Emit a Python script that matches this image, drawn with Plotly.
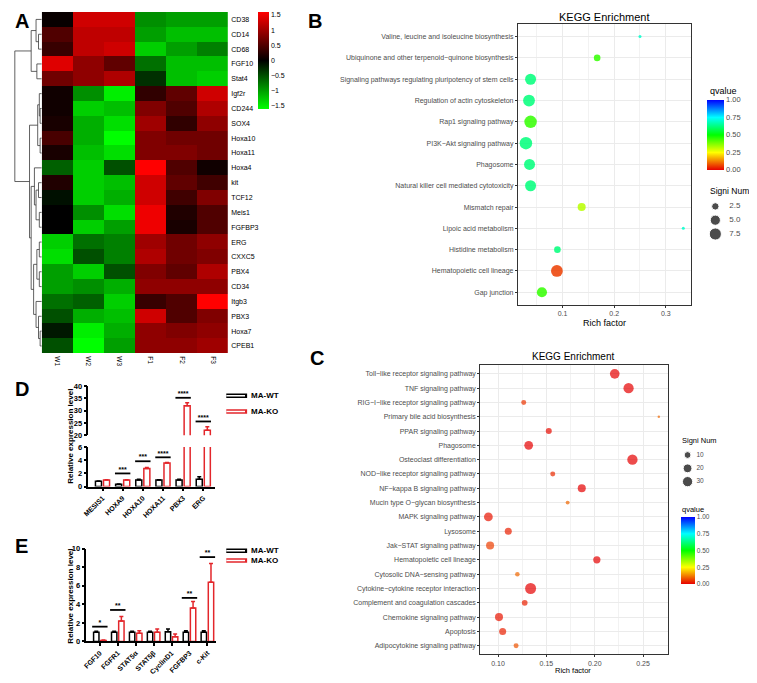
import plotly.graph_objects as go

W, H = 757, 683
OFF = 8  # page body margin: shift figure coordinates so the drawing lands on the reference pixels
FW, FH = W - OFF, H - OFF
FONT = "Liberation Sans, Arial, sans-serif"
RED = "#e3262b"
GREY_TXT = "#4d4d4d"


def px_x(x):
    return max(x - OFF, 0) / FW


def px_y(y):
    return 1 - max(y - OFF, 0) / FH


def dom_x(left, right):
    return [px_x(left), px_x(right)]


def dom_y(top, bottom):
    return [px_y(bottom), px_y(top)]


# ---------------- A: heatmap (row z-scores) ----------------
genes = ["CD38", "CD14", "CD68", "FGF10", "Stat4", "Igf2r", "CD244", "SOX4",
         "Hoxa10", "Hoxa11", "Hoxa4", "kit", "TCF12", "Meis1", "FGFBP3", "ERG",
         "CXXC5", "PBX4", "CD34", "Itgb3", "PBX3", "Hoxa7", "CPEB1"]
samples = ["W1", "W2", "W3", "F1", "F2", "F3"]
zscores = [
    [0.05, 1.3, 1.3, -0.9, -1.0, -1.0],
    [0.5, 1.2, 1.2, -1.0, -1.2, -1.2],
    [0.35, 1.2, 1.3, -1.3, -1.0, -0.8],
    [1.4, 0.9, 0.6, -0.7, -1.2, -1.2],
    [0.7, 0.9, 1.1, -0.3, -1.2, -1.3],
    [0.1, -0.9, -1.5, 0.3, 0.6, 1.3],
    [0.1, -1.3, -1.2, 0.8, 0.5, 1.1],
    [0.15, -1.1, -1.4, 1.0, 0.3, 0.9],
    [0.45, -1.1, -1.6, 0.8, 0.7, 0.7],
    [0.15, -1.2, -1.4, 0.8, 0.8, 0.7],
    [-0.6, -1.3, -0.5, 1.6, 0.5, 0.1],
    [0.2, -1.3, -1.2, 1.3, 0.6, 0.4],
    [-0.1, -1.3, -1.1, 1.3, 0.4, 0.8],
    [0.0, -0.9, -1.4, 1.5, 0.2, 0.5],
    [0.0, -1.3, -1.0, 1.5, 0.15, 0.5],
    [-1.3, -0.7, -0.8, 1.0, 0.7, 0.9],
    [-1.4, -0.5, -0.8, 1.1, 0.7, 0.8],
    [-1.0, -1.3, -0.5, 0.8, 0.6, 1.1],
    [-1.0, -0.9, -1.1, 0.9, 0.9, 0.9],
    [-0.7, -0.6, -1.3, 0.35, 0.5, 1.6],
    [-0.5, -1.1, -1.2, 1.3, 0.5, 0.8],
    [-0.15, -1.5, -1.1, 0.9, 0.8, 0.9],
    [-0.5, -1.6, -1.0, 0.9, 0.9, 1.0],
]
heat_ticks = [-1.5, -1, -0.5, 0, 0.5, 1, 1.5]

# row dendrogram: (left, right, merge height)
row_tree = (
    (("CD38", ("CD14", "CD68", 4), 7), ("FGF10", "Stat4", 6), 13),
    (
        (("Igf2r", ("CD244", "SOX4", 2), 3), ("Hoxa10", "Hoxa11", 2), 5),
        (
            ("Hoxa4", (("kit", "TCF12", 4), ("Meis1", "FGFBP3", 3), 7), 9),
            ((("ERG", "CXXC5", 3), ("PBX4", "CD34", 3), 6),
             ("Itgb3", ("PBX3", ("Hoxa7", "CPEB1", 2), 4), 7), 10),
            13,
        ),
        15,
    ),
    33,
)

# ---------------- B: KEGG enrichment ----------------
b_terms = [
    "Valine, leucine and isoleucine biosynthesis",
    "Ubiquinone and other terpenoid\u2212quinone biosynthesis",
    "Signaling pathways regulating pluripotency of stem cells",
    "Regulation of actin cytoskeleton",
    "Rap1 signaling pathway",
    "PI3K\u2212Akt signaling pathway",
    "Phagosome",
    "Natural killer cell mediated cytotoxicity",
    "Mismatch repair",
    "Lipoic acid metabolism",
    "Histidine metabolism",
    "Hematopoietic cell lineage",
    "Gap junction",
]
b_rich = [0.25, 0.167, 0.038, 0.035, 0.038, 0.029, 0.036, 0.038, 0.137, 0.334, 0.09, 0.089, 0.06]
b_count = [1, 2, 6, 7, 8, 8, 6, 6, 3, 1, 2, 7, 5]
b_q = [0.7, 0.45, 0.62, 0.62, 0.45, 0.62, 0.62, 0.62, 0.32, 0.7, 0.62, 0.06, 0.45]
b_size_legend = [2.5, 5.0, 7.5]

# ---------------- C: KEGG enrichment ----------------
c_terms = [
    "Toll\u2212like receptor signaling pathway",
    "TNF signaling pathway",
    "RIG\u2212I\u2212like receptor signaling pathway",
    "Primary bile acid biosynthesis",
    "PPAR signaling pathway",
    "Phagosome",
    "Osteoclast differentiation",
    "NOD\u2212like receptor signaling pathway",
    "NF\u2212kappa B signaling pathway",
    "Mucin type O\u2212glycan biosynthesis",
    "MAPK signaling pathway",
    "Lysosome",
    "Jak\u2212STAT signaling pathway",
    "Hematopoietic cell lineage",
    "Cytosolic DNA\u2212sensing pathway",
    "Cytokine\u2212cytokine receptor interaction",
    "Complement and coagulation cascades",
    "Chemokine signaling pathway",
    "Apoptosis",
    "Adipocytokine signaling pathway",
]
c_rich = [0.2207, 0.235, 0.1266, 0.2663, 0.1525, 0.1317, 0.239, 0.1566, 0.1866, 0.172,
          0.090, 0.1106, 0.0918, 0.2022, 0.120, 0.1337, 0.1276, 0.101, 0.1048, 0.1187]
c_count = [26, 30, 4, 1, 7, 20, 31, 4, 16, 2, 20, 11, 16, 12, 3, 36, 6, 16, 11, 4]
c_q = [0.0, 0.0, 0.05, 0.1, 0.01, 0.0, 0.0, 0.04, 0.0, 0.1,
       0.02, 0.03, 0.06, 0.0, 0.1, 0.0, 0.03, 0.02, 0.03, 0.08]
c_size_legend = [10, 20, 30]
q_ticks = [0, 0.25, 0.5, 0.75, 1.0]

# ---------------- D: qPCR ----------------
d_genes = ["MESIS1", "HOXA9", "HOXA10", "HOXA11", "PBX3", "ERG"]
d_wt = [0.8, 0.35, 1.0, 1.0, 1.0, 1.1]
d_wt_err = [0.05, 0.05, 0.1, 0.05, 0.1, 0.4]
d_ko = [1.0, 1.0, 2.75, 3.6, 32, 22]
d_ko_err = [0.05, 0.05, 0.15, 0.05, 1.2, 1.5]
d_sig_genes = ["HOXA9", "HOXA10", "HOXA11", "PBX3", "ERG"]
d_sig_y = [2.0, 3.85, 4.45, 35.2, 25.6]
d_sig_text = ["***", "***", "****", "****", "****"]

# ---------------- E: qPCR ----------------
e_genes = ["FGF10", "FGFR1", "STAT5\u03b1", "STAT5\u03b2", "CyclinD1", "FGFBP3", "c-Kit"]
e_wt = [1.0, 1.0, 1.0, 1.0, 1.05, 1.0, 1.0]
e_wt_err = [0.1, 0.1, 0.1, 0.1, 0.3, 0.15, 0.15]
e_ko = [0.1, 2.2, 0.9, 1.0, 0.5, 3.6, 6.4]
e_ko_err = [0.05, 0.5, 0.25, 0.35, 0.3, 0.7, 2.0]
e_sig_genes = ["FGF10", "FGFR1", "FGFBP3", "c-Kit"]
e_sig_y = [1.6, 3.4, 4.7, 9.1]
e_sig_text = ["*", "**", "**", "**"]

groups = ["MA-WT", "MA-KO"]
group_colors = ["black", RED]

rainbow = [[0, "#e60000"], [0.25, "#ffff00"], [0.5, "#00ff00"], [0.75, "#00ffff"], [1, "#0000ff"]]


def dendrogram_xy(tree, pos):
    xs, ys = [], []

    def walk(node):
        if isinstance(node, str):
            return pos[node], 0.0
        left, right, h = node
        yl, hl = walk(left)
        yr, hr = walk(right)
        xs.extend([hl, h, h, hr, None])
        ys.extend([yl, yl, yr, yr, None])
        return (yl + yr) / 2, h

    walk(tree)
    return xs, ys


def dot_sizes(counts, nmin, nmax, dmin, dmax):
    return [dmin + (dmax - dmin) * ((c - nmin) / (nmax - nmin)) ** 0.5 for c in counts]


fig = go.Figure()

# A
fig.add_trace(go.Heatmap(z=zscores, x=samples, y=genes, coloraxis="coloraxis",
                         xaxis="x", yaxis="y", hoverinfo="skip"))
dx, dy = dendrogram_xy(row_tree, {g: i for i, g in enumerate(genes)})
fig.add_trace(go.Scatter(x=dx, y=dy, mode="lines", line=dict(color="#3a3a3a", width=0.8),
                         xaxis="x2", yaxis="y2", showlegend=False, hoverinfo="skip"))

# B
b_nmin, b_nmax = min(b_count), max(b_count)
fig.add_trace(go.Scatter(
    x=b_rich, y=b_terms, mode="markers", xaxis="x3", yaxis="y3", showlegend=False,
    marker=dict(size=dot_sizes(b_count, b_nmin, b_nmax, 3, 12.5), color=b_q,
                coloraxis="coloraxis2", line=dict(width=0), opacity=0.85)))
fig.add_trace(go.Scatter(
    x=[10] * 3, y=b_size_legend, mode="markers", xaxis="x4", yaxis="y4", showlegend=False,
    marker=dict(size=dot_sizes(b_size_legend, b_nmin, b_nmax, 3, 12.5), color="black")))
fig.add_trace(go.Scatter(
    x=[24] * 3, y=b_size_legend, mode="text", text=[f"{v:.1f}" for v in b_size_legend],
    textposition="middle right", textfont=dict(size=8, color=GREY_TXT),
    xaxis="x4", yaxis="y4", showlegend=False, cliponaxis=False))

# C
c_nmin, c_nmax = min(c_count), max(c_count)
fig.add_trace(go.Scatter(
    x=c_rich, y=c_terms, mode="markers", xaxis="x5", yaxis="y5", showlegend=False,
    marker=dict(size=dot_sizes(c_count, c_nmin, c_nmax, 2.5, 11), color=c_q,
                coloraxis="coloraxis3", line=dict(width=0))))
fig.add_trace(go.Scatter(
    x=[9] * 3, y=c_size_legend, mode="markers", xaxis="x6", yaxis="y6", showlegend=False,
    marker=dict(size=dot_sizes(c_size_legend, c_nmin, c_nmax, 2.5, 11), color="black")))
fig.add_trace(go.Scatter(
    x=[18] * 3, y=c_size_legend, mode="text", text=[str(v) for v in c_size_legend],
    textposition="middle right", textfont=dict(size=6.5, color=GREY_TXT),
    xaxis="x6", yaxis="y6", showlegend=False, cliponaxis=False))


def add_bars(cats, wt, wt_err, ko, ko_err, xa, ya):
    for vals, errs, color, off in ((wt, wt_err, "black", -0.35), (ko, ko_err, RED, 0.05)):
        fig.add_trace(go.Bar(
            x=cats, y=vals, width=0.3, offset=off, xaxis=xa, yaxis=ya, showlegend=False,
            marker=dict(color="white", line=dict(color=color, width=1.5)),
            error_y=dict(type="data", array=errs, arrayminus=[0] * len(errs), symmetric=False,
                         color=color, thickness=1.5, width=2)))


def add_sig(cats, ys, labels, xa, ya):
    if not cats:
        return
    fig.add_trace(go.Scatter(
        x=cats, y=ys, mode="markers", xaxis=xa, yaxis=ya, showlegend=False, cliponaxis=False,
        marker=dict(symbol="line-ew", size=11, line=dict(color="black", width=1.8))))
    fig.add_trace(go.Scatter(
        x=cats, y=ys, mode="text", text=labels, textposition="top center", xaxis=xa, yaxis=ya,
        textfont=dict(size=7, color="black", weight="bold"), showlegend=False, cliponaxis=False))


def add_group_legend(xa, ya):
    ys = list(range(len(groups)))
    fig.add_trace(go.Scatter(
        x=[9] * len(groups), y=ys, mode="markers", xaxis=xa, yaxis=ya, showlegend=False,
        marker=dict(symbol="line-ew", size=17, color=group_colors,
                    line=dict(color=group_colors, width=4.5))))
    fig.add_trace(go.Scatter(
        x=[9] * len(groups), y=ys, mode="markers", xaxis=xa, yaxis=ya, showlegend=False,
        marker=dict(symbol="line-ew", size=14, line=dict(color="white", width=1.5))))
    fig.add_trace(go.Scatter(
        x=[25] * len(groups), y=ys, mode="text", text=groups, textposition="middle right",
        textfont=dict(size=8, color="black", weight="bold"), xaxis=xa, yaxis=ya,
        showlegend=False, cliponaxis=False))


# D (broken axis: top 20-40, bottom 0-6)
add_bars(d_genes, d_wt, d_wt_err, d_ko, d_ko_err, "x7", "y7")
add_bars(d_genes, d_wt, d_wt_err, d_ko, d_ko_err, "x8", "y8")
hi = [i for i, v in enumerate(d_sig_y) if v >= 20]
lo = [i for i, v in enumerate(d_sig_y) if v < 20]
add_sig([d_sig_genes[i] for i in hi], [d_sig_y[i] for i in hi], [d_sig_text[i] for i in hi], "x7", "y7")
add_sig([d_sig_genes[i] for i in lo], [d_sig_y[i] for i in lo], [d_sig_text[i] for i in lo], "x8", "y8")
add_group_legend("x10", "y10")

# E
add_bars(e_genes, e_wt, e_wt_err, e_ko, e_ko_err, "x9", "y9")
add_sig(e_sig_genes, e_sig_y, e_sig_text, "x9", "y9")
add_group_legend("x11", "y11")

hidden = dict(visible=False, showgrid=False, zeroline=False, fixedrange=True)
gg_axis = dict(showline=True, linecolor="#333333", linewidth=1, mirror=True, ticks="outside",
               ticklen=2, tickcolor="#333333", showgrid=True, gridcolor="#ebebeb", gridwidth=1,
               zeroline=False, tickfont=dict(size=7, color=GREY_TXT))
bar_y = dict(showline=True, linecolor="black", linewidth=1.5, ticks="outside", ticklen=3,
             tickwidth=1.5, tickcolor="black", showgrid=False, zeroline=False,
             tickfont=dict(size=7.5, color="black", weight="bold"))
bar_x = dict(type="category", showline=True, linecolor="black", linewidth=1.5, ticks="outside",
             ticklen=3, tickwidth=1.5, tickcolor="black", showgrid=False, zeroline=False,
             tickangle=-45, tickfont=dict(size=7, color="black", weight="bold"))


def cbar(left, top, length, thick, fsize, vals, texts, color="black"):
    return dict(x=px_x(left), xanchor="left", xpad=0, y=px_y(top), yanchor="top", ypad=0,
                len=length, lenmode="pixels", thickness=thick, outlinewidth=0, ticks="",
                tickvals=vals, ticktext=texts, tickfont=dict(size=fsize, color=color))


fig.update_layout(
    width=FW, height=FH, margin=dict(l=0, r=0, t=0, b=0), autosize=False,
    paper_bgcolor="white", plot_bgcolor="white", barmode="overlay",
    font=dict(family=FONT, color="black"), showlegend=False,
    # A
    xaxis=dict(domain=dom_x(36, 224), anchor="y", tickangle=90, ticks="", showgrid=False,
               zeroline=False, tickfont=dict(size=6.5), ticklabelstandoff=2),
    yaxis=dict(domain=dom_y(2, 354), anchor="x", side="right", range=[22.5, -0.5], ticks="",
               showgrid=False, zeroline=False, tickfont=dict(size=7), ticklabelstandoff=2,
               categoryorder="array", categoryarray=genes),
    xaxis2=dict(domain=dom_x(2, 36), anchor="y2", range=[34, 0], **hidden),
    yaxis2=dict(domain=dom_y(2, 354), anchor="x2", range=[22.5, -0.5], **hidden),
    coloraxis=dict(cmin=-1.6, cmax=1.6,
                   colorscale=[[0, "#00ff00"], [0.5, "#000000"], [1, "#ff0000"]],
                   colorbar=cbar(254, 2, 97, 11, 7, heat_ticks,
                                 [f"{v:g}".replace("-", "\u2212") for v in heat_ticks])),
    # B
    xaxis3=dict(domain=dom_x(516, 690), anchor="y3", range=[0.0135, 0.348],
                tickvals=[0.1, 0.2, 0.3], ticktext=["0.1", "0.2", "0.3"],
                minor=dict(tickvals=[0.05, 0.15, 0.25], showgrid=True, gridcolor="#f2f2f2",
                           ticks=""), **gg_axis),
    yaxis3=dict(domain=dom_y(20, 305), anchor="x3", type="category", categoryorder="array",
                categoryarray=b_terms, range=[12.6, -0.6], **gg_axis),
    xaxis4=dict(domain=dom_x(705, 757), anchor="y4", range=[0, 52], **hidden),
    yaxis4=dict(domain=dom_y(196, 240), anchor="x4", range=[8.75, 0.89], **hidden),
    coloraxis2=dict(cmin=0, cmax=1, colorscale=rainbow,
                    colorbar=cbar(707, 97, 70, 17, 7.5, q_ticks,
                                  [f"{v:.2f}" for v in q_ticks], GREY_TXT)),
    # C
    xaxis5=dict(domain=dom_x(478, 667), anchor="y5", range=[0.0816, 0.2755],
                tickvals=[0.10, 0.15, 0.20, 0.25], ticktext=["0.10", "0.15", "0.20", "0.25"],
                minor=dict(tickvals=[0.125, 0.175, 0.225], showgrid=True, gridcolor="#f2f2f2",
                           ticks=""), **gg_axis),
    yaxis5=dict(domain=dom_y(366, 659), anchor="x5", type="category", categoryorder="array",
                categoryarray=c_terms, range=[19.6, -0.6], **gg_axis),
    xaxis6=dict(domain=dom_x(678, 730), anchor="y6", range=[0, 52], **hidden),
    yaxis6=dict(domain=dom_y(447, 494), anchor="x6", range=[37.4, 2.6], **hidden),
    coloraxis3=dict(cmin=0, cmax=1, colorscale=rainbow,
                    colorbar=cbar(680, 520, 67, 14, 6.5, q_ticks,
                                  [f"{v:.2f}" for v in q_ticks], GREY_TXT)),
    # D
    xaxis7=dict(domain=dom_x(83, 211), anchor="y7", type="category", categoryorder="array",
                categoryarray=d_genes, range=[-0.7, 5.6], **hidden),
    yaxis7=dict(domain=dom_y(387, 437), anchor="x7", range=[20, 40], tickvals=[20, 25, 30, 35, 40],
                **bar_y),
    xaxis8=dict(domain=dom_x(83, 211), anchor="y8", categoryorder="array", categoryarray=d_genes,
                range=[-0.7, 5.6], **bar_x),
    yaxis8=dict(domain=dom_y(449, 489), anchor="x8", range=[0, 6], tickvals=[0, 2, 4, 6], **bar_y),
    xaxis10=dict(domain=dom_x(222, 300), anchor="y10", range=[0, 78], **hidden),
    yaxis10=dict(domain=dom_y(388, 422), anchor="x10", range=[1.5625, -0.5625], **hidden),
    # E
    xaxis9=dict(domain=dom_x(81, 212), anchor="y9", categoryorder="array", categoryarray=e_genes,
                range=[-0.75, 6.5], **bar_x),
    yaxis9=dict(domain=dom_y(552, 646), anchor="x9", range=[0, 10], tickvals=[0, 2, 4, 6, 8, 10],
                **bar_y),
    xaxis11=dict(domain=dom_x(222, 300), anchor="y11", range=[0, 78], **hidden),
    yaxis11=dict(domain=dom_y(546, 571), anchor="x11", range=[1.7, -0.8], **hidden),
)

texts = [
    # panel letters (kept inside the drawable area)
    dict(text="A", x=16, y=17, size=20, bold=True),
    dict(text="B", x=311, y=17, size=20, bold=True),
    dict(text="C", x=313, y=359, size=20, bold=True),
    dict(text="D", x=16, y=390, size=20, bold=True),
    dict(text="E", x=16, y=549, size=20, bold=True),
    # enrichment titles and legend headers
    dict(text="KEGG Enrichment", x=603, y=13, size=11),
    dict(text="Rich factor", x=603, y=323, size=9),
    dict(text="qvalue", x=723, y=88, size=9),
    dict(text="Signi Num", x=729, y=189, size=8.5),
    dict(text="KEGG Enrichment", x=572, y=357, size=10),
    dict(text="Rich factor", x=572, y=675, size=7.5),
    dict(text="Signi Num", x=699, y=442, size=7.5),
    dict(text="qvalue", x=692, y=512, size=7.5),
]
for t in texts:
    fig.add_annotation(text=t["text"], x=px_x(t["x"]), y=px_y(t["y"]), xref="paper", yref="paper",
                       xanchor="center", yanchor="middle", showarrow=False,
                       font=dict(size=t["size"], color="black",
                                 weight="bold" if t.get("bold") else "normal"))

for yc in (438, 600):
    fig.add_annotation(text="Relative expression level", x=px_x(65), y=px_y(yc), xref="paper",
                       yref="paper", textangle=-90, showarrow=False, xanchor="center",
                       yanchor="middle", font=dict(size=8, weight="bold", color="black"))

fig.write_html("out.html")
